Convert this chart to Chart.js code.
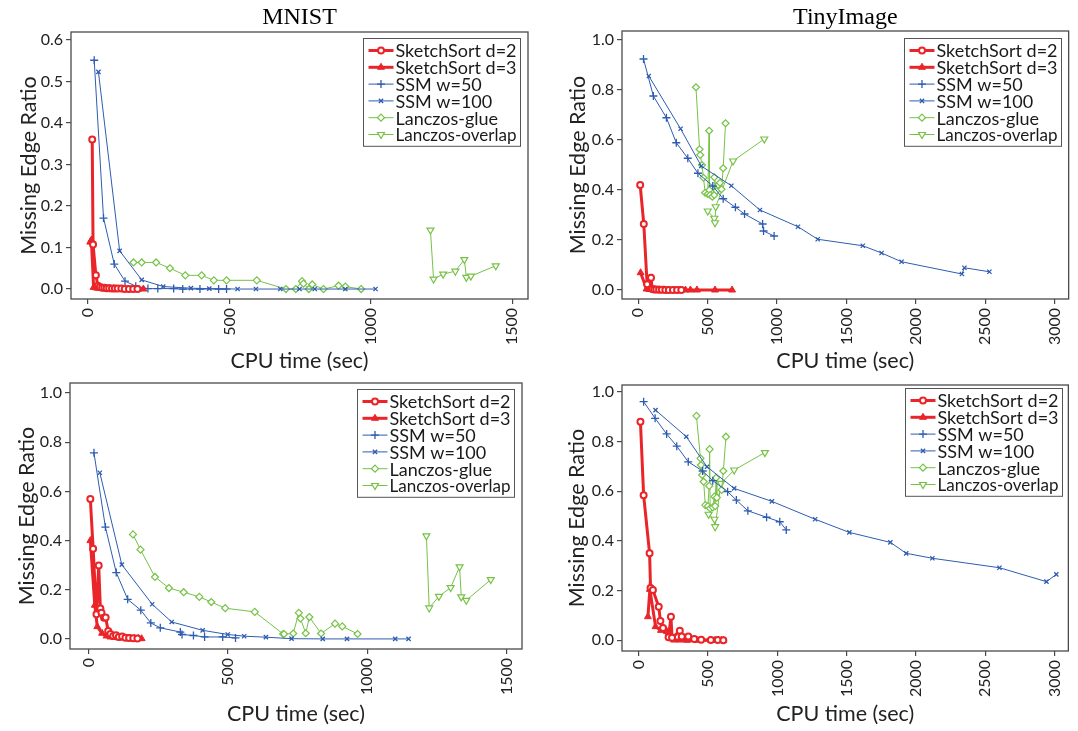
<!DOCTYPE html>
<html>
<head>
<meta charset="utf-8">
<script src="https://cdn.jsdelivr.net/npm/chart.js@4.4.1/dist/chart.umd.min.js"></script>
<style>
  html, body { margin: 0; padding: 0; background: #fff; }
  body { width: 1078px; height: 731px; position: relative; overflow: hidden; }
  canvas { position: absolute; }
</style>
</head>
<body>
<canvas id="mnistTop" width="539" height="380" style="left:0;top:0"></canvas>
<canvas id="tinyTop" width="539" height="380" style="left:539px;top:0"></canvas>
<canvas id="mnistBottom" width="539" height="365" style="left:0;top:366px"></canvas>
<canvas id="tinyBottom" width="539" height="365" style="left:539px;top:366px"></canvas>
<script>
// ---- data ----
const seriesNames = ["SketchSort d=2", "SketchSort d=3", "SSM w=50", "SSM w=100", "Lanczos-glue", "Lanczos-overlap"];
const panelTitles = ["MNIST", "TinyImage"];
const xTicksMnist = [0, 500, 1000, 1500];
const xTicksTiny = [0, 500, 1000, 1500, 2000, 2500, 3000];
const yTicksTop = [0, 0.1, 0.2, 0.3, 0.4, 0.5, 0.6];
const yTicksUnit = [0, 0.2, 0.4, 0.6, 0.8, 1.0];

// MNIST, top row
const mnistTopD2 = [[15,0.36],[18,0.107],[28,0.033],[35,0.008],[42,0.005],[50,0.003],[58,0.003],[66,0.002],[75,0.002],[85,0.001],[95,0.001],[105,0.001],[118,0.001],[130,0],[145,0],[160,0],[175,0]];
const mnistTopD3 = [[8,0.113],[12,0.118],[20,0.004],[28,0.003],[36,0.002],[45,0.002],[55,0.001],[65,0.001],[78,0.001],[92,0.001],[108,0],[125,0],[142,0],[160,0],[178,0],[196,0]];
const mnistTopW50 = [[22,0.551],[55,0.171],[93,0.06],[131,0.019],[169,0.007],[212,0.001],[247,0.001],[303,0.001],[335,0],[396,0],[462,0],[490,0]];
const mnistTopW100 = [[37,0.523],[112,0.092],[190,0.022],[266,0.006],[364,0.002],[429,0.001],[529,0],[594,0],[680,0],[748,0],[802,0],[910,0],[1017,0]];
const mnistTopGlue = [[161,0.064],[190,0.064],[241,0.064],[290,0.05],[344,0.033],[402,0.033],[445,0.021],[490,0.021],[597,0.021],[700,0],[735,0],[757,0.019],[762,0.013],[781,0],[793,0.011],[833,0],[886,0.008],[910,0.006],[966,0]];
const mnistTopOverlap = [[1211,0.142],[1222,0.024],[1256,0.036],[1299,0.043],[1331,0.071],[1338,0.028],[1354,0.031],[1442,0.056]];

// TinyImage, top row
const tinyTopD2 = [[14,0.42],[40,0.264],[64,0.023],[92,0.049],[100,0.004],[115,0.002],[130,0.002],[150,0.001],[170,0.001],[195,0],[220,0],[250,0],[280,0],[310,0]];
const tinyTopD3 = [[17,0.069],[60,0.004],[80,0.002],[104,0.002],[125,0.001],[150,0.001],[185,0.001],[220,0],[260,0],[300,0],[340,0],[376,0],[423,0],[553,0],[676,0]];
const tinyTopW50 = [[38,0.924],[109,0.776],[203,0.689],[274,0.589],[357,0.527],[430,0.467],[537,0.416],[612,0.365],[700,0.331],[766,0.304],[896,0.264],[903,0.236],[979,0.216]];
const tinyTopW100 = [[76,0.856],[305,0.645],[454,0.496],[671,0.417],[877,0.32],[1151,0.253],[1293,0.203],[1618,0.177],[1753,0.148],[1897,0.113],[2332,0.064],[2350,0.089],[2530,0.073]];
const tinyTopGlue = [[416,0.811],[442,0.563],[447,0.54],[459,0.5],[470,0.449],[482,0.389],[501,0.384],[511,0.637],[513,0.4],[518,0.38],[534,0.373],[548,0.38],[548,0.451],[565,0.397],[577,0.42],[589,0.429],[600,0.403],[612,0.487],[629,0.667]];
const tinyTopOverlap = [[501,0.316],[548,0.287],[553,0.269],[558,0.333],[683,0.516],[908,0.604]];

// MNIST, bottom row
const mnistBotD2 = [[6,0.569],[16,0.367],[28,0.1],[36,0.299],[42,0.124],[46,0.106],[55,0.086],[61,0.087],[70,0.032],[78,0.02],[88,0.012],[98,0.015],[108,0.008],[120,0.01],[132,0.005],[145,0.004],[160,0.003],[175,0.002]];
const mnistBotD3 = [[6,0.4],[22,0.137],[31,0.05],[48,0.023],[64,0.012],[78,0.008],[92,0.006],[106,0.005],[120,0.004],[135,0.003],[150,0.003],[165,0.002],[178,0.002],[190,0.001]];
const mnistBotW50 = [[19,0.757],[60,0.455],[99,0.27],[140,0.161],[187,0.117],[223,0.065],[257,0.045],[329,0.028],[335,0.018],[376,0.014],[416,0.008],[481,0.008],[527,0.004]];
const mnistBotW100 = [[40,0.676],[119,0.302],[228,0.141],[298,0.069],[409,0.035],[499,0.018],[558,0.011],[636,0.007],[728,0.001],[840,0],[927,0],[1100,0],[1148,0]];
const mnistBotGlue = [[159,0.425],[186,0.363],[238,0.252],[288,0.207],[341,0.19],[397,0.171],[440,0.15],[490,0.125],[596,0.11],[698,0.02],[701,0.02],[734,0.022],[754,0.106],[760,0.083],[779,0.023],[792,0.089],[834,0.022],[884,0.062],[910,0.051],[965,0.02]];
const mnistBotOverlap = [[1212,0.419],[1222,0.126],[1257,0.173],[1299,0.209],[1331,0.293],[1337,0.171],[1355,0.157],[1443,0.241]];

// TinyImage, bottom row
const tinyBotD2 = [[12,0.879],[35,0.584],[78,0.35],[85,0.21],[102,0.202],[144,0.135],[156,0.078],[175,0.05],[215,0.012],[232,0.095],[240,0.01],[296,0.038],[310,0.015],[357,0.015],[400,0.005],[450,0.002],[520,0.001],[570,0.001],[610,0]];
const tinyBotD3 = [[66,0.095],[80,0.205],[121,0.055],[160,0.04],[203,0.035],[230,0.01],[255,0.001],[300,0.001],[350,0],[421,0],[522,0],[550,0],[574,0],[595,0],[610,0]];
const tinyBotW50 = [[35,0.96],[118,0.893],[201,0.83],[274,0.781],[357,0.718],[461,0.681],[534,0.642],[641,0.598],[704,0.564],[787,0.521],[922,0.495],[1017,0.477],[1064,0.444]];
const tinyBotW100 = [[121,0.926],[343,0.819],[492,0.698],[688,0.611],[960,0.559],[1272,0.487],[1519,0.434],[1815,0.394],[1929,0.35],[2118,0.33],[2602,0.292],[2941,0.236],[3012,0.265]];
const tinyBotGlue = [[416,0.903],[445,0.732],[449,0.705],[457,0.665],[468,0.638],[480,0.544],[499,0.54],[508,0.621],[511,0.769],[515,0.531],[534,0.535],[546,0.578],[551,0.54],[558,0.654],[563,0.574],[598,0.605],[610,0.681],[629,0.819]];
const tinyBotOverlap = [[504,0.507],[546,0.487],[551,0.457],[593,0.631],[688,0.685],[910,0.755]];

// ---- styling ----
const RED = "#ea2529", BLUE = "#2d5cb1", GREEN = "#76c247";
const FONT = "Lato";
const seriesStyles = [
  { color: RED, lineWidth: 3, pointStyle: "circle", radius: 3, pointBorderWidth: 2, fill: "#fff" },
  { color: RED, lineWidth: 3, pointStyle: "triangle", radius: 4, pointBorderWidth: 1, fill: RED },
  { color: BLUE, lineWidth: 1, pointStyle: "cross", radius: 4, pointBorderWidth: 1.3, fill: BLUE },
  { color: BLUE, lineWidth: 1, pointStyle: "crossRot", radius: 3, pointBorderWidth: 1.3, fill: BLUE },
  { color: GREEN, lineWidth: 1, pointStyle: "rectRot", radius: 3.5, pointBorderWidth: 1.2, fill: "#fff" },
  { color: GREEN, lineWidth: 1, pointStyle: "triangle", radius: 4, rotation: 180, pointBorderWidth: 1.2, fill: "#fff" }
];

// frame, inner legend and panel title
const panelDecor = {
  id: "panelDecor",
  afterDraw(chart, args, opts) {
    const { ctx, chartArea } = chart;
    ctx.save();
    ctx.strokeStyle = "#4a4a4a";
    ctx.lineWidth = 1.3;
    ctx.strokeRect(chartArea.left, chartArea.top, chartArea.right - chartArea.left, chartArea.bottom - chartArea.top);

    if (opts.title) {
      ctx.font = '24px "Liberation Serif"';
      ctx.fillStyle = "#000";
      ctx.textAlign = "center";
      ctx.textBaseline = "alphabetic";
      ctx.fillText(opts.title, (chartArea.left + chartArea.right) / 2, opts.titleY);
    }

    // legend box, fixed size like the original figure
    const sets = chart.data.datasets;
    ctx.font = "18px " + FONT;
    const rowH = 16.8, sample = 25;
    const w = 157, textMax = w - 5 - sample - 2 - 4;
    const h = rowH * sets.length + 7;
    const x0 = Math.round(chartArea.right - opts.legendRight - w) + 0.5;
    const y0 = Math.round(chartArea.top + opts.legendTop) + 0.5;
    ctx.fillStyle = "#fff";
    ctx.fillRect(x0, y0, w, h);
    ctx.strokeStyle = "#555";
    ctx.lineWidth = 1;
    ctx.strokeRect(x0, y0, w, h);
    sets.forEach((d, i) => {
      const st = seriesStyles[i];
      const cy = y0 + 3.6 + rowH * (i + 0.5);
      const lx = x0 + 5;
      ctx.strokeStyle = st.color;
      ctx.lineWidth = st.lineWidth;
      ctx.beginPath();
      ctx.moveTo(lx, cy);
      ctx.lineTo(lx + sample, cy);
      ctx.stroke();
      ctx.fillStyle = st.fill;
      ctx.lineWidth = st.pointBorderWidth;
      Chart.helpers.drawPoint(ctx, { pointStyle: st.pointStyle, radius: st.radius, rotation: st.rotation || 0, borderWidth: st.pointBorderWidth }, lx + sample / 2, cy);
      ctx.fillStyle = "#1a1a1a";
      ctx.textAlign = "left";
      ctx.textBaseline = "middle";
      ctx.fillText(d.label, lx + sample + 2, cy + 1, textMax);
    });
    ctx.restore();
  }
};

function makeDatasets(series) {
  return series.map((pts, i) => {
    const st = seriesStyles[i];
    return {
      label: seriesNames[i],
      data: pts.map(p => ({ x: p[0], y: p[1] })),
      showLine: true,
      tension: 0,
      borderColor: st.color,
      borderWidth: st.lineWidth,
      pointStyle: st.pointStyle,
      pointRadius: st.radius,
      pointHoverRadius: st.radius,
      pointRotation: st.rotation || 0,
      pointBorderWidth: st.pointBorderWidth,
      pointBorderColor: st.color,
      pointBackgroundColor: st.fill
    };
  });
}

function makeChart(id, series, p) {
  new Chart(document.getElementById(id), {
    type: "scatter",
    data: { datasets: makeDatasets(series) },
    plugins: [panelDecor],
    options: {
      responsive: false,
      animation: false,
      events: [],
      layout: { padding: { top: p.padTop, right: p.padRight, left: 0, bottom: 0 } },
      plugins: {
        legend: { display: false },
        tooltip: { enabled: false },
        panelDecor: { title: p.title, titleY: p.titleY, legendRight: p.legendRight, legendTop: p.legendTop }
      },
      scales: {
        x: {
          type: "linear",
          min: p.xMin,
          max: p.xMax,
          afterBuildTicks: s => { s.ticks = p.xTicks.map(v => ({ value: v })); },
          afterFit: s => { s.height = p.xH; },
          grid: { drawOnChartArea: false, tickLength: 5, color: "#4a4a4a", lineWidth: 1.2 },
          border: { display: false },
          ticks: { minRotation: 90, maxRotation: 90, padding: 4, color: "#222", font: { family: FONT, size: 16 }, callback: v => String(v) },
          title: { display: true, text: "CPU time (sec)", color: "#222", font: { family: FONT, size: 21.5 }, padding: { top: 0, bottom: p.xTitlePad } }
        },
        y: {
          type: "linear",
          min: p.yMin,
          max: p.yMax,
          afterBuildTicks: s => { s.ticks = p.yTicks.map(v => ({ value: v })); },
          afterFit: s => { s.width = p.yW; },
          grid: { drawOnChartArea: false, tickLength: 5, color: "#4a4a4a", lineWidth: 1.2 },
          border: { display: false },
          ticks: { padding: 3, color: "#222", font: { family: FONT, size: 16 }, callback: v => v.toFixed(1) },
          title: { display: true, text: "Missing Edge Ratio", color: "#222", font: { family: FONT, size: 21.5 }, padding: { top: p.yTitlePad, bottom: 0 } }
        }
      }
    }
  });
}

makeChart("mnistTop",
  [mnistTopD2, mnistTopD3, mnistTopW50, mnistTopW100, mnistTopGlue, mnistTopOverlap],
  { title: panelTitles[0], titleY: 24, padTop: 32, padRight: 11, yW: 71, xH: 81,
    xMin: -60, xMax: 1556, yMin: -0.024, yMax: 0.619, xTicks: xTicksMnist, yTicks: yTicksTop,
    xTitlePad: 6, yTitlePad: 16, legendRight: 8, legendTop: 6 });

makeChart("tinyTop",
  [tinyTopD2, tinyTopD3, tinyTopW50, tinyTopW100, tinyTopGlue, tinyTopOverlap],
  { title: panelTitles[1], titleY: 24, padTop: 31, padRight: 2, yW: 83, xH: 81,
    xMin: -117, xMax: 3101, yMin: -0.036, yMax: 1.036, xTicks: xTicksTiny, yTicks: yTicksUnit,
    xTitlePad: 6, yTitlePad: 26, legendRight: 8, legendTop: 7 });

makeChart("mnistBottom",
  [mnistBotD2, mnistBotD3, mnistBotW50, mnistBotW100, mnistBotGlue, mnistBotOverlap],
  { title: null, titleY: 0, padTop: 17, padRight: 17, yW: 70, xH: 82,
    xMin: -67, xMax: 1555, yMin: -0.041, yMax: 1.041, xTicks: xTicksMnist, yTicks: yTicksUnit,
    xTitlePad: 4, yTitlePad: 14, legendRight: 8, legendTop: 6 });

makeChart("tinyBottom",
  [tinyBotD2, tinyBotD3, tinyBotW50, tinyBotW100, tinyBotGlue, tinyBotOverlap],
  { title: null, titleY: 0, padTop: 19, padRight: 2, yW: 83, xH: 80,
    xMin: -121, xMax: 3099, yMin: -0.043, yMax: 1.027, xTicks: xTicksTiny, yTicks: yTicksUnit,
    xTitlePad: 4, yTitlePad: 25, legendRight: 6, legendTop: 3 });
</script>
</body>
</html>
